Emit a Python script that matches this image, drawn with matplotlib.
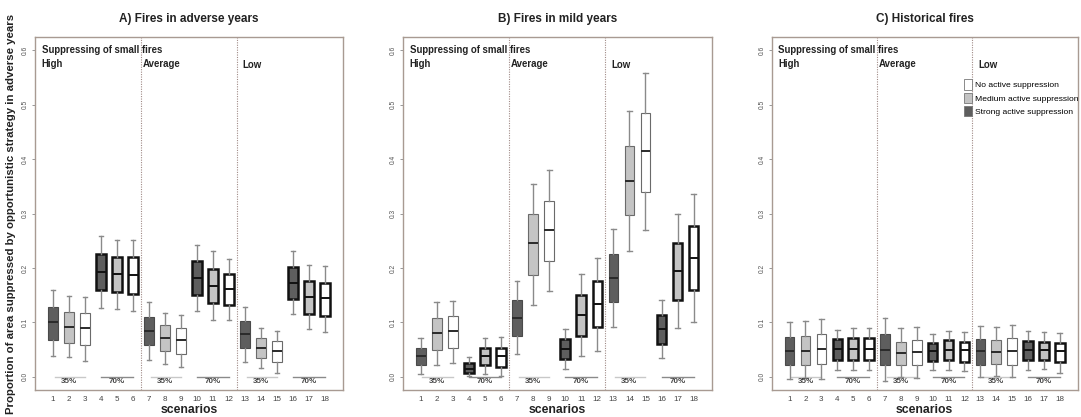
import matplotlib
matplotlib.use("Agg")
import matplotlib.pyplot as plt
from matplotlib.patches import Patch

plt.rcParams['font.family'] = ['Liberation Sans', 'DejaVu Sans']

scenarios = list(range(1, 19))
titles = ["A) Fires in adverse years", "B) Fires in mild years", "C) Historical fires"]

# box statistics per panel: whisker low, q1, median, q3, whisker high
A_whislo = [0.038, 0.036, 0.030, 0.126, 0.124, 0.121, 0.031, 0.024, 0.019, 0.121, 0.104, 0.104, 0.027, 0.016, 0.007, 0.115, 0.088, 0.082]
A_q1     = [0.068, 0.063, 0.059, 0.159, 0.155, 0.152, 0.058, 0.047, 0.042, 0.151, 0.135, 0.132, 0.053, 0.035, 0.027, 0.143, 0.116, 0.111]
A_med    = [0.100, 0.092, 0.090, 0.192, 0.189, 0.187, 0.085, 0.072, 0.067, 0.182, 0.167, 0.162, 0.078, 0.054, 0.047, 0.173, 0.147, 0.144]
A_q3     = [0.129, 0.120, 0.118, 0.225, 0.220, 0.220, 0.110, 0.095, 0.090, 0.212, 0.199, 0.189, 0.103, 0.072, 0.066, 0.201, 0.176, 0.173]
A_whishi = [0.160, 0.149, 0.147, 0.258, 0.251, 0.251, 0.138, 0.118, 0.113, 0.243, 0.231, 0.217, 0.128, 0.090, 0.085, 0.231, 0.206, 0.203]

B_whislo = [0.005, 0.022, 0.025, 0.002, 0.005, 0.002, 0.043, 0.132, 0.157, 0.015, 0.038, 0.048, 0.092, 0.231, 0.269, 0.034, 0.089, 0.101]
B_q1     = [0.021, 0.050, 0.054, 0.007, 0.021, 0.019, 0.076, 0.188, 0.213, 0.032, 0.076, 0.091, 0.137, 0.297, 0.340, 0.060, 0.141, 0.160]
B_med    = [0.038, 0.080, 0.084, 0.015, 0.038, 0.038, 0.109, 0.245, 0.269, 0.051, 0.114, 0.134, 0.182, 0.360, 0.414, 0.088, 0.194, 0.219]
B_q3     = [0.054, 0.108, 0.111, 0.025, 0.053, 0.054, 0.142, 0.299, 0.323, 0.069, 0.151, 0.176, 0.226, 0.424, 0.485, 0.114, 0.246, 0.277]
B_whishi = [0.071, 0.137, 0.140, 0.036, 0.071, 0.073, 0.176, 0.355, 0.380, 0.088, 0.189, 0.219, 0.272, 0.489, 0.558, 0.141, 0.300, 0.336]

C_whislo = [-0.004, -0.002, -0.004, 0.013, 0.012, 0.012, -0.008, -0.001, -0.002, 0.013, 0.013, 0.011, -0.001, 0.001, -0.001, 0.013, 0.015, 0.008]
C_q1     = [0.022, 0.022, 0.023, 0.031, 0.031, 0.031, 0.021, 0.021, 0.021, 0.030, 0.031, 0.028, 0.022, 0.023, 0.022, 0.031, 0.031, 0.028]
C_med    = [0.048, 0.048, 0.051, 0.051, 0.051, 0.051, 0.050, 0.044, 0.045, 0.047, 0.050, 0.049, 0.047, 0.046, 0.047, 0.050, 0.049, 0.047]
C_q3     = [0.074, 0.076, 0.079, 0.069, 0.071, 0.071, 0.079, 0.065, 0.068, 0.062, 0.068, 0.065, 0.070, 0.068, 0.071, 0.066, 0.065, 0.063]
C_whishi = [0.100, 0.103, 0.106, 0.087, 0.089, 0.089, 0.108, 0.089, 0.092, 0.079, 0.085, 0.083, 0.093, 0.091, 0.095, 0.085, 0.082, 0.080]

panels = [
    (A_whislo, A_q1, A_med, A_q3, A_whishi),
    (B_whislo, B_q1, B_med, B_q3, B_whishi),
    (C_whislo, C_q1, C_med, C_q3, C_whishi),
]

strategy_labels = ["Strong active suppression", "Medium active suppression", "No active suppression"]
fills = ["#5e5e5e", "#c4c4c4", "#ffffff"]
group_labels = ["High", "Average", "Low"]
pct_labels = ["35%", "70%"]

frame_col = "#a89a92"
dot_col = "#a08a86"
whisk_col = "#8a8a8a"

fig = plt.figure(figsize=(10.81, 4.17), dpi=100)
lefts = [35 / 1081, 402.7 / 1081, 771.7 / 1081]
widths = [308 / 1081, 309 / 1081, 306 / 1081]
bottom = 1 - 390 / 417
height = 353 / 417

for p, (wlo, q1, med, q3, whi) in enumerate(panels):
    ax = fig.add_axes([lefts[p], bottom, widths[p], height])
    for i, s in enumerate(scenarios):
        thick = ((s - 1) // 3) % 2 == 1
        fc = fills[(s - 1) % 3]
        stats = [dict(whislo=wlo[i], q1=q1[i], med=med[i], q3=q3[i], whishi=whi[i], fliers=[])]
        if thick:
            bp = dict(facecolor=fc, edgecolor="#111111", linewidth=1.8)
            mp = dict(color="#111111", linewidth=1.4)
        else:
            bp = dict(facecolor=fc, edgecolor="#6a6a6a" if fc != "#5e5e5e" else "#4a4a4a", linewidth=0.8)
            mp = dict(color="#2a2a2a", linewidth=1.4)
        ax.bxp(stats, positions=[s], widths=0.6, patch_artist=True, showfliers=False,
               boxprops=bp, medianprops=mp,
               whiskerprops=dict(color=whisk_col, linewidth=1.0),
               capprops=dict(color=whisk_col, linewidth=1.0), capwidths=0.3,
               manage_ticks=False, zorder=3)

    ax.set_xlim(-0.125, 19.125)
    ax.set_ylim(-0.024, 0.624)
    for xv in (6.5, 12.5):
        ax.axvline(xv, color=dot_col, linestyle=(0, (1, 1.2)), linewidth=0.8, zorder=1)

    # group annotations
    ax.text(0.3, 0.6, "Suppressing of small fires", fontsize=6.9, fontweight="bold",
            ha="left", va="center", color="#222222")
    ax.text(0.3, 0.574, group_labels[0], fontsize=6.9, fontweight="bold", ha="left", va="center", color="#222222")
    ax.text(6.62, 0.574, group_labels[1], fontsize=6.9, fontweight="bold", ha="left", va="center", color="#222222")
    ax.text(12.85, 0.572, group_labels[2], fontsize=6.9, fontweight="bold", ha="left", va="center", color="#222222")

    for g in range(3):
        base = g * 6
        ax.plot([base + 1.1, base + 3.0], [0, 0], color="#c8c8c8", linewidth=1.0, zorder=2)
        ax.plot([base + 4.0, base + 6.0], [0, 0], color="#8a8a8a", linewidth=1.0, zorder=2)
        ax.text(base + 2.0, -0.009, pct_labels[0], fontsize=5.8, fontweight="bold",
                ha="center", va="center", color="#444444")
        ax.text(base + 5.0, -0.009, pct_labels[1], fontsize=5.8, fontweight="bold",
                ha="center", va="center", color="#444444")

    for sp in ax.spines.values():
        sp.set_color(frame_col)
        sp.set_linewidth(1.0)

    ax.set_yticks([0.0, 0.1, 0.2, 0.3, 0.4, 0.5, 0.6])
    ax.set_yticklabels(["0.0", "0.1", "0.2", "0.3", "0.4", "0.5", "0.6"], rotation=90,
                       va="center", fontsize=4.8, color="#555555")
    ax.tick_params(axis="y", length=2.5, width=0.6, color="#888888", pad=2)
    ax.set_xticks(scenarios)
    ax.set_xticklabels([str(s) for s in scenarios], fontsize=5.8, color="#444444")
    ax.tick_params(axis="x", length=0, pad=4)

    ax.set_title(titles[p], fontsize=8.5, fontweight="bold", pad=11, color="#222222")
    ax.set_xlabel("scenarios", fontsize=8.8, fontweight="bold", labelpad=1, color="#222222")

    if p == 0:
        ax.set_ylabel("Proportion of area suppressed by opportunistic strategy in adverse years",
                      fontsize=8.2, fontweight="bold", labelpad=4, color="#222222")
    if p == 2:
        handles = [Patch(facecolor=fills[2], edgecolor="#777777", linewidth=0.6),
                   Patch(facecolor=fills[1], edgecolor="#777777", linewidth=0.6),
                   Patch(facecolor=fills[0], edgecolor="#777777", linewidth=0.6)]
        ax.legend(handles, [strategy_labels[2], strategy_labels[1], strategy_labels[0]],
                  loc="upper left", bbox_to_anchor=(0.628, 0.88), frameon=False,
                  fontsize=6.1, handlelength=0.95, handleheight=1.5, borderpad=0,
                  labelspacing=0.35, handletextpad=0.35, borderaxespad=0)

fig.savefig("out.png", dpi=100)
